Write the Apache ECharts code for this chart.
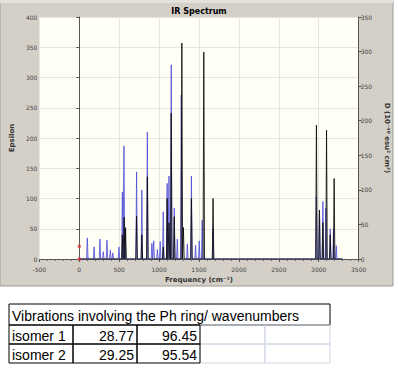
<!DOCTYPE html>
<html>
<head>
<meta charset="utf-8">
<script src="https://cdn.jsdelivr.net/npm/echarts@6/dist/echarts.min.js"></script>
<style>
html,body{margin:0;padding:0;background:#fff;}
#c{width:398px;height:372px;}
</style>
</head>
<body>
<div id="c"></div>
<script>
// ---- data ----
const chartTitle = "IR Spectrum";
const xTicks = [-500, 0, 500, 1000, 1500, 2000, 2500, 3000, 3500];
const leftTicks = [0, 50, 100, 150, 200, 250, 300, 350, 400];
const rightTicks = [0, 50, 100, 150, 200, 250, 300, 350];
// peaks [frequency cm-1, epsilon]
const blackPeaks = [
  [540,40],[562,69],[580,52],[718,71],[784,40],[853,136],[1052,20],[1101,100],
  [1124,60],[1152,241],[1190,70],[1285,357],[1305,52],[1405,100],[1560,342],
  [1676,100],[2971,221],[3009,81],[3052,60],[3098,213],[3144,40],[3193,133]
];
const bluePeaks = [
  [101,35],[186,20],[259,33],[301,12],[347,31],[389,15],[420,10],[497,20],
  [540,111],[560,187],[575,50],[718,144],[784,114],[853,210],[910,26],[933,30],
  [979,16],[1014,29],[1052,78],[1101,125],[1124,137],[1152,321],[1190,84],
  [1228,33],[1278,271],[1354,25],[1405,137],[1457,23],[1503,30],[1540,64],
  [1676,50],[2971,103],[3009,81],[3052,95],[3090,84],[3144,50],[3185,50],[3220,22]
];
const spectrumStart = 0, spectrumEnd = 3300;
const cursorMarks = [[0,21],[0,0]];
// table
const tableTitle = "Vibrations involving the Ph ring/ wavenumbers";
const rowLabels = ["isomer 1", "isomer 2"];
const col1Values = ["28.77", "29.25"];
const col2Values = ["96.45", "95.54"];

// ---- build line data (stick shapes) ----
const HW = 9;
function build(peaks){
  const s = peaks.slice().sort((a,b)=>a[0]-b[0]);
  const out = [[spectrumStart,0]];
  s.forEach(p=>{ out.push([p[0]-HW,0]); out.push([p[0],p[1]]); out.push([p[0]+HW,0]); });
  out.push([spectrumEnd,0]);
  return out;
}

const chart = echarts.init(document.getElementById('c'), null, {renderer:'svg', width:398, height:372});

const tick = {fontSize:6, color:'#444', fontFamily:'DejaVu Sans', formatter:(v)=>String(v)};
const g = [];
g.push({type:'rect', z:-10, shape:{x:0,y:0,width:393,height:286}, style:{fill:'#D4D0C8', stroke:'#A09C94', lineWidth:1}});
g.push({type:'rect', z:-9, shape:{x:0,y:0,width:393,height:3}, style:{fill:'#E4E2DC'}});
// table
const TX=[9,73,137,200,265,330], TY=[304,325,344,363];
const font = '14px "Liberation Sans"';
g.push({type:'rect', shape:{x:TX[0],y:TY[0],width:TX[5]-TX[0],height:TY[1]-TY[0]}, style:{fill:'none',stroke:'#000',lineWidth:1}});
for(let r=1;r<3;r++){
  for(let c=0;c<5;c++){
    g.push({type:'rect', z: c<3?2:1, shape:{x:TX[c],y:TY[r],width:TX[c+1]-TX[c],height:TY[r+1]-TY[r]},
      style:{fill:'none',stroke:c<3?'#000':'#D0D7E5',lineWidth:1}});
  }
}
g.push({type:'text', style:{text:tableTitle, x:TX[0]+3, y:(TY[0]+TY[1])/2+1, font:font, fill:'#000', textVerticalAlign:'middle'}});
rowLabels.forEach((t,i)=>{
  const cy=(TY[i+1]+TY[i+2])/2+1;
  g.push({type:'text', style:{text:t, x:TX[0]+3, y:cy, font:font, fill:'#000', textVerticalAlign:'middle'}});
  g.push({type:'text', style:{text:col1Values[i], x:TX[2]-3, y:cy, font:font, fill:'#000', textAlign:'right', textVerticalAlign:'middle'}});
  g.push({type:'text', style:{text:col2Values[i], x:TX[3]-3, y:cy, font:font, fill:'#000', textAlign:'right', textVerticalAlign:'middle'}});
});

chart.setOption({
  animation:false,
  title:{text:chartTitle, left:'center', top:2, textStyle:{fontSize:8, fontWeight:'bold', color:'#000', fontFamily:'DejaVu Sans'}},
  graphic:g,
  grid:{left:22, right:25, top:17, bottom:113, show:true, backgroundColor:'#FFFFF6', borderWidth:0},
  xAxis:{type:'value', min:xTicks[0], max:xTicks[xTicks.length-1], interval:500, offset:3,
    name:'Frequency (cm⁻¹)', nameLocation:'middle', nameGap:11,
    nameTextStyle:{fontSize:7, fontWeight:'bold', color:'#333', fontFamily:'DejaVu Sans'},
    axisLine:{lineStyle:{color:'#555', width:1}},
    axisTick:{length:3, lineStyle:{color:'#555'}},
    minorTick:{show:true, splitNumber:5, length:2, lineStyle:{color:'#666'}},
    axisLabel:{...tick, margin:4},
    splitLine:{show:true, lineStyle:{color:'#E6E6DC', width:1}}},
  yAxis:[
    {type:'value', min:leftTicks[0], max:leftTicks[leftTicks.length-1], interval:50,
     name:'Epsilon', nameLocation:'middle', nameGap:14, nameRotate:90,
     nameTextStyle:{fontSize:7, fontWeight:'bold', color:'#333', fontFamily:'DejaVu Sans'},
     axisLine:{show:true, lineStyle:{color:'#555'}}, axisTick:{show:true, length:3, lineStyle:{color:'#555'}},
     axisLabel:{...tick, margin:2}, splitLine:{show:true, lineStyle:{color:'#E6E6DC'}}},
    {type:'value', position:'right', min:rightTicks[0], max:rightTicks[rightTicks.length-1], interval:50,
     name:'D (10⁻⁴⁰ esu² cm²)', nameLocation:'middle', nameGap:11, nameRotate:-90,
     nameTextStyle:{fontSize:7, fontWeight:'bold', color:'#333', fontFamily:'DejaVu Sans'},
     axisLine:{show:true, lineStyle:{color:'#555'}}, axisTick:{show:true, length:3, lineStyle:{color:'#555'}},
     axisLabel:{...tick, margin:2}, splitLine:{show:false}}
  ],
  series:[
    {type:'line', data:build(bluePeaks), symbol:'none', yAxisIndex:0, z:2,
     lineStyle:{color:'#4A4AD8', width:0.8}, areaStyle:{color:'rgba(120,120,230,0.35)'}},
    {type:'line', data:build(blackPeaks), symbol:'none', yAxisIndex:0, z:3,
     lineStyle:{color:'#111', width:0.9}},
    {type:'scatter', data:cursorMarks, symbol:'rect', symbolSize:3, itemStyle:{color:'#E03030'}, z:4}
  ]
});
</script>
</body>
</html>
